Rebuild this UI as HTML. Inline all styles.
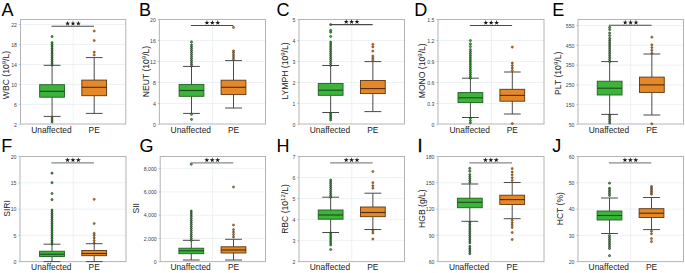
<!DOCTYPE html>
<html><head><meta charset="utf-8"><style>
html,body{margin:0;padding:0;background:#fff;width:685px;height:273px;overflow:hidden}
svg{display:block;font-family:"Liberation Sans",sans-serif}
</style></head><body>
<svg width="685" height="273" viewBox="0 0 685 273">
<rect width="685" height="273" fill="#fff"/>
<line x1="20.50" y1="24.50" x2="125.80" y2="24.50" stroke="#e8eff2" stroke-width="0.8"/>
<line x1="20.50" y1="44.48" x2="125.80" y2="44.48" stroke="#e8eff2" stroke-width="0.8"/>
<line x1="20.50" y1="64.46" x2="125.80" y2="64.46" stroke="#e8eff2" stroke-width="0.8"/>
<line x1="20.50" y1="84.44" x2="125.80" y2="84.44" stroke="#e8eff2" stroke-width="0.8"/>
<line x1="20.50" y1="104.42" x2="125.80" y2="104.42" stroke="#e8eff2" stroke-width="0.8"/>
<line x1="73.15" y1="19.50" x2="73.15" y2="124.00" stroke="#e8eff2" stroke-width="0.8"/>
<line x1="18.90" y1="24.50" x2="20.50" y2="24.50" stroke="#999" stroke-width="0.6"/>
<text x="17.00" y="26.70" font-size="5.2" fill="#444444" text-anchor="end">22</text>
<line x1="18.90" y1="44.48" x2="20.50" y2="44.48" stroke="#999" stroke-width="0.6"/>
<text x="17.00" y="46.68" font-size="5.2" fill="#444444" text-anchor="end">18</text>
<line x1="18.90" y1="64.46" x2="20.50" y2="64.46" stroke="#999" stroke-width="0.6"/>
<text x="17.00" y="66.66" font-size="5.2" fill="#444444" text-anchor="end">14</text>
<line x1="18.90" y1="84.44" x2="20.50" y2="84.44" stroke="#999" stroke-width="0.6"/>
<text x="17.00" y="86.64" font-size="5.2" fill="#444444" text-anchor="end">10</text>
<line x1="18.90" y1="104.42" x2="20.50" y2="104.42" stroke="#999" stroke-width="0.6"/>
<text x="17.00" y="106.62" font-size="5.2" fill="#444444" text-anchor="end">6</text>
<line x1="18.90" y1="124.40" x2="20.50" y2="124.40" stroke="#999" stroke-width="0.6"/>
<text x="17.00" y="126.60" font-size="5.2" fill="#444444" text-anchor="end">2</text>
<rect x="20.50" y="19.50" width="105.30" height="104.50" fill="none" stroke="#b4b4b4" stroke-width="1"/>
<line x1="52.09" y1="65.30" x2="52.09" y2="84.70" stroke="#4a4a4a" stroke-width="1"/>
<line x1="52.09" y1="97.20" x2="52.09" y2="116.40" stroke="#4a4a4a" stroke-width="1"/>
<line x1="43.69" y1="65.30" x2="60.49" y2="65.30" stroke="#4a4a4a" stroke-width="1"/>
<line x1="43.69" y1="116.40" x2="60.49" y2="116.40" stroke="#4a4a4a" stroke-width="1"/>
<rect x="39.69" y="84.70" width="24.80" height="12.50" fill="#3cb43c" stroke="#1f5f1f" stroke-width="0.9"/>
<line x1="39.69" y1="91.30" x2="64.49" y2="91.30" stroke="#1c4a1c" stroke-width="1.1"/>
<circle cx="52.09" cy="36.60" r="1.1" fill="#3caa3c" stroke="#0a250a" stroke-width="0.5"/>
<circle cx="52.09" cy="42.60" r="1.0" fill="#3cb03c" stroke="#000000" stroke-width="0.5"/>
<circle cx="52.09" cy="44.47" r="1.0" fill="#3cb03c" stroke="#000000" stroke-width="0.5"/>
<circle cx="52.09" cy="46.33" r="1.0" fill="#3cb03c" stroke="#000000" stroke-width="0.5"/>
<circle cx="52.09" cy="48.20" r="1.0" fill="#3cb03c" stroke="#000000" stroke-width="0.5"/>
<circle cx="52.09" cy="50.07" r="1.0" fill="#3cb03c" stroke="#000000" stroke-width="0.5"/>
<circle cx="52.09" cy="51.93" r="1.0" fill="#3cb03c" stroke="#000000" stroke-width="0.5"/>
<circle cx="52.09" cy="53.80" r="1.0" fill="#3cb03c" stroke="#000000" stroke-width="0.5"/>
<circle cx="52.09" cy="55.67" r="1.0" fill="#3cb03c" stroke="#000000" stroke-width="0.5"/>
<circle cx="52.09" cy="57.53" r="1.0" fill="#3cb03c" stroke="#000000" stroke-width="0.5"/>
<circle cx="52.09" cy="59.40" r="1.0" fill="#3cb03c" stroke="#000000" stroke-width="0.5"/>
<circle cx="52.09" cy="61.27" r="1.0" fill="#3cb03c" stroke="#000000" stroke-width="0.5"/>
<circle cx="52.09" cy="63.13" r="1.0" fill="#3cb03c" stroke="#000000" stroke-width="0.5"/>
<circle cx="52.09" cy="65.00" r="1.0" fill="#3cb03c" stroke="#000000" stroke-width="0.5"/>
<circle cx="52.09" cy="118.00" r="1.0" fill="#3cb03c" stroke="#000000" stroke-width="0.5"/>
<circle cx="52.09" cy="120.00" r="1.0" fill="#3cb03c" stroke="#000000" stroke-width="0.5"/>
<circle cx="52.09" cy="122.00" r="1.0" fill="#3cb03c" stroke="#000000" stroke-width="0.5"/>
<line x1="94.21" y1="57.60" x2="94.21" y2="80.10" stroke="#4a4a4a" stroke-width="1"/>
<line x1="94.21" y1="95.70" x2="94.21" y2="113.40" stroke="#4a4a4a" stroke-width="1"/>
<line x1="85.81" y1="57.60" x2="102.61" y2="57.60" stroke="#4a4a4a" stroke-width="1"/>
<line x1="85.81" y1="113.40" x2="102.61" y2="113.40" stroke="#4a4a4a" stroke-width="1"/>
<rect x="81.81" y="80.10" width="24.80" height="15.60" fill="#e4882a" stroke="#5a3812" stroke-width="0.9"/>
<line x1="81.81" y1="87.30" x2="106.61" y2="87.30" stroke="#4a2e10" stroke-width="1.1"/>
<circle cx="94.21" cy="31.00" r="1.1" fill="#b8722a" stroke="#5e3a10" stroke-width="0.5"/>
<circle cx="94.21" cy="40.60" r="1.1" fill="#b8722a" stroke="#5e3a10" stroke-width="0.5"/>
<circle cx="94.21" cy="52.20" r="1.1" fill="#b8722a" stroke="#5e3a10" stroke-width="0.5"/>
<circle cx="94.21" cy="55.00" r="1.1" fill="#b8722a" stroke="#5e3a10" stroke-width="0.5"/>
<line x1="51.49" y1="26.30" x2="94.01" y2="26.30" stroke="#4a4a4a" stroke-width="1.1"/>
<polygon points="67.60,20.85 68.19,22.69 70.12,22.68 68.56,23.81 69.16,25.64 67.60,24.51 66.04,25.64 66.64,23.81 65.08,22.68 67.01,22.69" fill="#151515"/>
<polygon points="73.00,20.85 73.59,22.69 75.52,22.68 73.96,23.81 74.56,25.64 73.00,24.51 71.44,25.64 72.04,23.81 70.48,22.68 72.41,22.69" fill="#151515"/>
<polygon points="78.40,20.85 78.99,22.69 80.92,22.68 79.36,23.81 79.96,25.64 78.40,24.51 76.84,25.64 77.44,23.81 75.88,22.68 77.81,22.69" fill="#151515"/>
<text x="51.39" y="133.30" font-size="8.4" fill="#222222" text-anchor="middle">Unaffected</text>
<text x="94.21" y="133.30" font-size="8.4" fill="#222222" text-anchor="middle">PE</text>
<text x="0" y="0" font-size="8.6" fill="#222222" text-anchor="middle" transform="translate(9.30,75.00) rotate(-90)">WBC (10<tspan baseline-shift="super" font-size="70%">9</tspan>/L)</text>
<text x="1.60" y="15.60" font-size="18" fill="#000">A</text>
<line x1="159.40" y1="40.50" x2="265.50" y2="40.50" stroke="#e8eff2" stroke-width="0.8"/>
<line x1="159.40" y1="61.50" x2="265.50" y2="61.50" stroke="#e8eff2" stroke-width="0.8"/>
<line x1="159.40" y1="82.50" x2="265.50" y2="82.50" stroke="#e8eff2" stroke-width="0.8"/>
<line x1="159.40" y1="103.50" x2="265.50" y2="103.50" stroke="#e8eff2" stroke-width="0.8"/>
<line x1="212.60" y1="19.50" x2="212.60" y2="124.00" stroke="#e8eff2" stroke-width="0.8"/>
<line x1="157.80" y1="19.50" x2="159.40" y2="19.50" stroke="#999" stroke-width="0.6"/>
<text x="155.90" y="21.70" font-size="5.2" fill="#444444" text-anchor="end">20</text>
<line x1="157.80" y1="40.50" x2="159.40" y2="40.50" stroke="#999" stroke-width="0.6"/>
<text x="155.90" y="42.70" font-size="5.2" fill="#444444" text-anchor="end">16</text>
<line x1="157.80" y1="61.50" x2="159.40" y2="61.50" stroke="#999" stroke-width="0.6"/>
<text x="155.90" y="63.70" font-size="5.2" fill="#444444" text-anchor="end">12</text>
<line x1="157.80" y1="82.50" x2="159.40" y2="82.50" stroke="#999" stroke-width="0.6"/>
<text x="155.90" y="84.70" font-size="5.2" fill="#444444" text-anchor="end">8</text>
<line x1="157.80" y1="103.50" x2="159.40" y2="103.50" stroke="#999" stroke-width="0.6"/>
<text x="155.90" y="105.70" font-size="5.2" fill="#444444" text-anchor="end">4</text>
<line x1="157.80" y1="124.50" x2="159.40" y2="124.50" stroke="#999" stroke-width="0.6"/>
<text x="155.90" y="126.70" font-size="5.2" fill="#444444" text-anchor="end">0</text>
<rect x="159.40" y="19.50" width="106.10" height="104.50" fill="none" stroke="#b4b4b4" stroke-width="1"/>
<line x1="191.50" y1="66.40" x2="191.50" y2="84.40" stroke="#4a4a4a" stroke-width="1"/>
<line x1="191.50" y1="96.30" x2="191.50" y2="113.40" stroke="#4a4a4a" stroke-width="1"/>
<line x1="183.10" y1="66.40" x2="199.90" y2="66.40" stroke="#4a4a4a" stroke-width="1"/>
<line x1="183.10" y1="113.40" x2="199.90" y2="113.40" stroke="#4a4a4a" stroke-width="1"/>
<rect x="179.10" y="84.40" width="24.80" height="11.90" fill="#3cb43c" stroke="#1f5f1f" stroke-width="0.9"/>
<line x1="179.10" y1="90.50" x2="203.90" y2="90.50" stroke="#1c4a1c" stroke-width="1.1"/>
<circle cx="191.50" cy="41.90" r="1.1" fill="#3caa3c" stroke="#0a250a" stroke-width="0.5"/>
<circle cx="191.50" cy="114.30" r="1.1" fill="#3caa3c" stroke="#0a250a" stroke-width="0.5"/>
<circle cx="191.50" cy="119.40" r="1.1" fill="#3caa3c" stroke="#0a250a" stroke-width="0.5"/>
<circle cx="191.50" cy="44.80" r="1.0" fill="#3cb03c" stroke="#000000" stroke-width="0.5"/>
<circle cx="191.50" cy="46.75" r="1.0" fill="#3cb03c" stroke="#000000" stroke-width="0.5"/>
<circle cx="191.50" cy="48.69" r="1.0" fill="#3cb03c" stroke="#000000" stroke-width="0.5"/>
<circle cx="191.50" cy="50.64" r="1.0" fill="#3cb03c" stroke="#000000" stroke-width="0.5"/>
<circle cx="191.50" cy="52.58" r="1.0" fill="#3cb03c" stroke="#000000" stroke-width="0.5"/>
<circle cx="191.50" cy="54.53" r="1.0" fill="#3cb03c" stroke="#000000" stroke-width="0.5"/>
<circle cx="191.50" cy="56.47" r="1.0" fill="#3cb03c" stroke="#000000" stroke-width="0.5"/>
<circle cx="191.50" cy="58.42" r="1.0" fill="#3cb03c" stroke="#000000" stroke-width="0.5"/>
<circle cx="191.50" cy="60.36" r="1.0" fill="#3cb03c" stroke="#000000" stroke-width="0.5"/>
<circle cx="191.50" cy="62.31" r="1.0" fill="#3cb03c" stroke="#000000" stroke-width="0.5"/>
<circle cx="191.50" cy="64.25" r="1.0" fill="#3cb03c" stroke="#000000" stroke-width="0.5"/>
<circle cx="191.50" cy="66.20" r="1.0" fill="#3cb03c" stroke="#000000" stroke-width="0.5"/>
<line x1="233.50" y1="60.60" x2="233.50" y2="80.20" stroke="#4a4a4a" stroke-width="1"/>
<line x1="233.50" y1="94.60" x2="233.50" y2="108.00" stroke="#4a4a4a" stroke-width="1"/>
<line x1="225.10" y1="60.60" x2="241.90" y2="60.60" stroke="#4a4a4a" stroke-width="1"/>
<line x1="225.10" y1="108.00" x2="241.90" y2="108.00" stroke="#4a4a4a" stroke-width="1"/>
<rect x="221.10" y="80.20" width="24.80" height="14.40" fill="#e4882a" stroke="#5a3812" stroke-width="0.9"/>
<line x1="221.10" y1="87.30" x2="245.90" y2="87.30" stroke="#4a2e10" stroke-width="1.1"/>
<circle cx="233.50" cy="27.40" r="1.1" fill="#b8722a" stroke="#5e3a10" stroke-width="0.5"/>
<circle cx="233.50" cy="50.90" r="1.1" fill="#b8722a" stroke="#5e3a10" stroke-width="0.5"/>
<circle cx="233.50" cy="52.80" r="1.0" fill="#c07628" stroke="#2a1800" stroke-width="0.5"/>
<circle cx="233.50" cy="54.90" r="1.0" fill="#c07628" stroke="#2a1800" stroke-width="0.5"/>
<circle cx="233.50" cy="57.00" r="1.0" fill="#c07628" stroke="#2a1800" stroke-width="0.5"/>
<circle cx="233.50" cy="59.10" r="1.0" fill="#c07628" stroke="#2a1800" stroke-width="0.5"/>
<line x1="190.90" y1="25.50" x2="233.30" y2="25.50" stroke="#4a4a4a" stroke-width="1.1"/>
<polygon points="206.95,20.05 207.54,21.89 209.47,21.88 207.91,23.01 208.51,24.84 206.95,23.71 205.39,24.84 205.99,23.01 204.43,21.88 206.36,21.89" fill="#151515"/>
<polygon points="212.35,20.05 212.94,21.89 214.87,21.88 213.31,23.01 213.91,24.84 212.35,23.71 210.79,24.84 211.39,23.01 209.83,21.88 211.76,21.89" fill="#151515"/>
<polygon points="217.75,20.05 218.34,21.89 220.27,21.88 218.71,23.01 219.31,24.84 217.75,23.71 216.19,24.84 216.79,23.01 215.23,21.88 217.16,21.89" fill="#151515"/>
<text x="190.80" y="133.30" font-size="8.4" fill="#222222" text-anchor="middle">Unaffected</text>
<text x="233.50" y="133.30" font-size="8.4" fill="#222222" text-anchor="middle">PE</text>
<text x="0" y="0" font-size="8.6" fill="#222222" text-anchor="middle" transform="translate(148.80,71.50) rotate(-90)">NEUT (10<tspan baseline-shift="super" font-size="70%">9</tspan>/L)</text>
<text x="139.00" y="15.60" font-size="18" fill="#000">B</text>
<line x1="299.00" y1="40.50" x2="404.50" y2="40.50" stroke="#e8eff2" stroke-width="0.8"/>
<line x1="299.00" y1="61.50" x2="404.50" y2="61.50" stroke="#e8eff2" stroke-width="0.8"/>
<line x1="299.00" y1="82.50" x2="404.50" y2="82.50" stroke="#e8eff2" stroke-width="0.8"/>
<line x1="299.00" y1="103.50" x2="404.50" y2="103.50" stroke="#e8eff2" stroke-width="0.8"/>
<line x1="351.75" y1="19.50" x2="351.75" y2="124.00" stroke="#e8eff2" stroke-width="0.8"/>
<line x1="297.40" y1="19.50" x2="299.00" y2="19.50" stroke="#999" stroke-width="0.6"/>
<text x="295.50" y="21.70" font-size="5.2" fill="#444444" text-anchor="end">5</text>
<line x1="297.40" y1="40.50" x2="299.00" y2="40.50" stroke="#999" stroke-width="0.6"/>
<text x="295.50" y="42.70" font-size="5.2" fill="#444444" text-anchor="end">4</text>
<line x1="297.40" y1="61.50" x2="299.00" y2="61.50" stroke="#999" stroke-width="0.6"/>
<text x="295.50" y="63.70" font-size="5.2" fill="#444444" text-anchor="end">3</text>
<line x1="297.40" y1="82.50" x2="299.00" y2="82.50" stroke="#999" stroke-width="0.6"/>
<text x="295.50" y="84.70" font-size="5.2" fill="#444444" text-anchor="end">2</text>
<line x1="297.40" y1="103.50" x2="299.00" y2="103.50" stroke="#999" stroke-width="0.6"/>
<text x="295.50" y="105.70" font-size="5.2" fill="#444444" text-anchor="end">1</text>
<line x1="297.40" y1="124.50" x2="299.00" y2="124.50" stroke="#999" stroke-width="0.6"/>
<text x="295.50" y="126.70" font-size="5.2" fill="#444444" text-anchor="end">0</text>
<rect x="299.00" y="19.50" width="105.50" height="104.50" fill="none" stroke="#b4b4b4" stroke-width="1"/>
<line x1="330.65" y1="65.50" x2="330.65" y2="83.50" stroke="#4a4a4a" stroke-width="1"/>
<line x1="330.65" y1="95.30" x2="330.65" y2="112.50" stroke="#4a4a4a" stroke-width="1"/>
<line x1="322.25" y1="65.50" x2="339.05" y2="65.50" stroke="#4a4a4a" stroke-width="1"/>
<line x1="322.25" y1="112.50" x2="339.05" y2="112.50" stroke="#4a4a4a" stroke-width="1"/>
<rect x="318.25" y="83.50" width="24.80" height="11.80" fill="#3cb43c" stroke="#1f5f1f" stroke-width="0.9"/>
<line x1="318.25" y1="90.20" x2="343.05" y2="90.20" stroke="#1c4a1c" stroke-width="1.1"/>
<circle cx="330.65" cy="24.60" r="1.1" fill="#3caa3c" stroke="#0a250a" stroke-width="0.5"/>
<circle cx="330.65" cy="30.40" r="1.1" fill="#3caa3c" stroke="#0a250a" stroke-width="0.5"/>
<circle cx="330.65" cy="32.20" r="1.1" fill="#3caa3c" stroke="#0a250a" stroke-width="0.5"/>
<circle cx="330.65" cy="36.50" r="1.1" fill="#3caa3c" stroke="#0a250a" stroke-width="0.5"/>
<circle cx="330.65" cy="42.00" r="1.0" fill="#3cb03c" stroke="#000000" stroke-width="0.5"/>
<circle cx="330.65" cy="43.96" r="1.0" fill="#3cb03c" stroke="#000000" stroke-width="0.5"/>
<circle cx="330.65" cy="45.92" r="1.0" fill="#3cb03c" stroke="#000000" stroke-width="0.5"/>
<circle cx="330.65" cy="47.88" r="1.0" fill="#3cb03c" stroke="#000000" stroke-width="0.5"/>
<circle cx="330.65" cy="49.83" r="1.0" fill="#3cb03c" stroke="#000000" stroke-width="0.5"/>
<circle cx="330.65" cy="51.79" r="1.0" fill="#3cb03c" stroke="#000000" stroke-width="0.5"/>
<circle cx="330.65" cy="53.75" r="1.0" fill="#3cb03c" stroke="#000000" stroke-width="0.5"/>
<circle cx="330.65" cy="55.71" r="1.0" fill="#3cb03c" stroke="#000000" stroke-width="0.5"/>
<circle cx="330.65" cy="57.67" r="1.0" fill="#3cb03c" stroke="#000000" stroke-width="0.5"/>
<circle cx="330.65" cy="59.62" r="1.0" fill="#3cb03c" stroke="#000000" stroke-width="0.5"/>
<circle cx="330.65" cy="61.58" r="1.0" fill="#3cb03c" stroke="#000000" stroke-width="0.5"/>
<circle cx="330.65" cy="63.54" r="1.0" fill="#3cb03c" stroke="#000000" stroke-width="0.5"/>
<circle cx="330.65" cy="65.50" r="1.0" fill="#3cb03c" stroke="#000000" stroke-width="0.5"/>
<circle cx="330.65" cy="113.30" r="1.0" fill="#3cb03c" stroke="#000000" stroke-width="0.5"/>
<circle cx="330.65" cy="114.97" r="1.0" fill="#3cb03c" stroke="#000000" stroke-width="0.5"/>
<circle cx="330.65" cy="116.65" r="1.0" fill="#3cb03c" stroke="#000000" stroke-width="0.5"/>
<circle cx="330.65" cy="118.33" r="1.0" fill="#3cb03c" stroke="#000000" stroke-width="0.5"/>
<circle cx="330.65" cy="120.00" r="1.0" fill="#3cb03c" stroke="#000000" stroke-width="0.5"/>
<line x1="372.85" y1="61.60" x2="372.85" y2="80.50" stroke="#4a4a4a" stroke-width="1"/>
<line x1="372.85" y1="93.60" x2="372.85" y2="111.60" stroke="#4a4a4a" stroke-width="1"/>
<line x1="364.45" y1="61.60" x2="381.25" y2="61.60" stroke="#4a4a4a" stroke-width="1"/>
<line x1="364.45" y1="111.60" x2="381.25" y2="111.60" stroke="#4a4a4a" stroke-width="1"/>
<rect x="360.45" y="80.50" width="24.80" height="13.10" fill="#e4882a" stroke="#5a3812" stroke-width="0.9"/>
<line x1="360.45" y1="88.60" x2="385.25" y2="88.60" stroke="#4a2e10" stroke-width="1.1"/>
<circle cx="372.85" cy="44.30" r="1.1" fill="#b8722a" stroke="#5e3a10" stroke-width="0.5"/>
<circle cx="372.85" cy="46.90" r="1.1" fill="#b8722a" stroke="#5e3a10" stroke-width="0.5"/>
<circle cx="372.85" cy="51.10" r="1.1" fill="#b8722a" stroke="#5e3a10" stroke-width="0.5"/>
<circle cx="372.85" cy="56.00" r="1.1" fill="#b8722a" stroke="#5e3a10" stroke-width="0.5"/>
<circle cx="372.85" cy="58.00" r="1.1" fill="#b8722a" stroke="#5e3a10" stroke-width="0.5"/>
<circle cx="372.85" cy="60.00" r="1.1" fill="#b8722a" stroke="#5e3a10" stroke-width="0.5"/>
<line x1="330.05" y1="24.60" x2="372.65" y2="24.60" stroke="#4a4a4a" stroke-width="1.1"/>
<polygon points="346.20,19.15 346.79,20.99 348.72,20.98 347.16,22.11 347.76,23.94 346.20,22.81 344.64,23.94 345.24,22.11 343.68,20.98 345.61,20.99" fill="#151515"/>
<polygon points="351.60,19.15 352.19,20.99 354.12,20.98 352.56,22.11 353.16,23.94 351.60,22.81 350.04,23.94 350.64,22.11 349.08,20.98 351.01,20.99" fill="#151515"/>
<polygon points="357.00,19.15 357.59,20.99 359.52,20.98 357.96,22.11 358.56,23.94 357.00,22.81 355.44,23.94 356.04,22.11 354.48,20.98 356.41,20.99" fill="#151515"/>
<text x="329.95" y="133.30" font-size="8.4" fill="#222222" text-anchor="middle">Unaffected</text>
<text x="372.85" y="133.30" font-size="8.4" fill="#222222" text-anchor="middle">PE</text>
<text x="0" y="0" font-size="8.6" fill="#222222" text-anchor="middle" transform="translate(287.70,71.00) rotate(-90)">LYMPH (10<tspan baseline-shift="super" font-size="70%">9</tspan>/L)</text>
<text x="276.40" y="15.60" font-size="18" fill="#000">C</text>
<line x1="438.00" y1="40.50" x2="544.00" y2="40.50" stroke="#e8eff2" stroke-width="0.8"/>
<line x1="438.00" y1="61.50" x2="544.00" y2="61.50" stroke="#e8eff2" stroke-width="0.8"/>
<line x1="438.00" y1="82.50" x2="544.00" y2="82.50" stroke="#e8eff2" stroke-width="0.8"/>
<line x1="438.00" y1="103.50" x2="544.00" y2="103.50" stroke="#e8eff2" stroke-width="0.8"/>
<line x1="491.40" y1="19.50" x2="491.40" y2="124.00" stroke="#e8eff2" stroke-width="0.8"/>
<line x1="436.40" y1="19.50" x2="438.00" y2="19.50" stroke="#999" stroke-width="0.6"/>
<text x="434.50" y="21.70" font-size="5.2" fill="#444444" text-anchor="end">1.5</text>
<line x1="436.40" y1="40.50" x2="438.00" y2="40.50" stroke="#999" stroke-width="0.6"/>
<text x="434.50" y="42.70" font-size="5.2" fill="#444444" text-anchor="end">1.2</text>
<line x1="436.40" y1="61.50" x2="438.00" y2="61.50" stroke="#999" stroke-width="0.6"/>
<text x="434.50" y="63.70" font-size="5.2" fill="#444444" text-anchor="end">0.9</text>
<line x1="436.40" y1="82.50" x2="438.00" y2="82.50" stroke="#999" stroke-width="0.6"/>
<text x="434.50" y="84.70" font-size="5.2" fill="#444444" text-anchor="end">0.6</text>
<line x1="436.40" y1="103.50" x2="438.00" y2="103.50" stroke="#999" stroke-width="0.6"/>
<text x="434.50" y="105.70" font-size="5.2" fill="#444444" text-anchor="end">0.3</text>
<line x1="436.40" y1="124.50" x2="438.00" y2="124.50" stroke="#999" stroke-width="0.6"/>
<text x="434.50" y="126.70" font-size="5.2" fill="#444444" text-anchor="end">0</text>
<rect x="438.00" y="19.50" width="106.00" height="104.50" fill="none" stroke="#b4b4b4" stroke-width="1"/>
<line x1="470.40" y1="78.20" x2="470.40" y2="92.60" stroke="#4a4a4a" stroke-width="1"/>
<line x1="470.40" y1="102.60" x2="470.40" y2="117.50" stroke="#4a4a4a" stroke-width="1"/>
<line x1="462.00" y1="78.20" x2="478.80" y2="78.20" stroke="#4a4a4a" stroke-width="1"/>
<line x1="462.00" y1="117.50" x2="478.80" y2="117.50" stroke="#4a4a4a" stroke-width="1"/>
<rect x="458.00" y="92.60" width="24.80" height="10.00" fill="#3cb43c" stroke="#1f5f1f" stroke-width="0.9"/>
<line x1="458.00" y1="97.80" x2="482.80" y2="97.80" stroke="#1c4a1c" stroke-width="1.1"/>
<circle cx="470.40" cy="40.60" r="1.1" fill="#3caa3c" stroke="#0a250a" stroke-width="0.5"/>
<circle cx="470.40" cy="43.90" r="1.1" fill="#3caa3c" stroke="#0a250a" stroke-width="0.5"/>
<circle cx="470.40" cy="46.60" r="1.1" fill="#3caa3c" stroke="#0a250a" stroke-width="0.5"/>
<circle cx="470.40" cy="49.50" r="1.0" fill="#3cb03c" stroke="#000000" stroke-width="0.5"/>
<circle cx="470.40" cy="51.41" r="1.0" fill="#3cb03c" stroke="#000000" stroke-width="0.5"/>
<circle cx="470.40" cy="53.33" r="1.0" fill="#3cb03c" stroke="#000000" stroke-width="0.5"/>
<circle cx="470.40" cy="55.24" r="1.0" fill="#3cb03c" stroke="#000000" stroke-width="0.5"/>
<circle cx="470.40" cy="57.15" r="1.0" fill="#3cb03c" stroke="#000000" stroke-width="0.5"/>
<circle cx="470.40" cy="59.07" r="1.0" fill="#3cb03c" stroke="#000000" stroke-width="0.5"/>
<circle cx="470.40" cy="60.98" r="1.0" fill="#3cb03c" stroke="#000000" stroke-width="0.5"/>
<circle cx="470.40" cy="62.89" r="1.0" fill="#3cb03c" stroke="#000000" stroke-width="0.5"/>
<circle cx="470.40" cy="64.81" r="1.0" fill="#3cb03c" stroke="#000000" stroke-width="0.5"/>
<circle cx="470.40" cy="66.72" r="1.0" fill="#3cb03c" stroke="#000000" stroke-width="0.5"/>
<circle cx="470.40" cy="68.63" r="1.0" fill="#3cb03c" stroke="#000000" stroke-width="0.5"/>
<circle cx="470.40" cy="70.55" r="1.0" fill="#3cb03c" stroke="#000000" stroke-width="0.5"/>
<circle cx="470.40" cy="72.46" r="1.0" fill="#3cb03c" stroke="#000000" stroke-width="0.5"/>
<circle cx="470.40" cy="74.37" r="1.0" fill="#3cb03c" stroke="#000000" stroke-width="0.5"/>
<circle cx="470.40" cy="76.29" r="1.0" fill="#3cb03c" stroke="#000000" stroke-width="0.5"/>
<circle cx="470.40" cy="78.20" r="1.0" fill="#3cb03c" stroke="#000000" stroke-width="0.5"/>
<circle cx="470.40" cy="118.30" r="1.0" fill="#3cb03c" stroke="#000000" stroke-width="0.5"/>
<circle cx="470.40" cy="120.55" r="1.0" fill="#3cb03c" stroke="#000000" stroke-width="0.5"/>
<circle cx="470.40" cy="122.80" r="1.0" fill="#3cb03c" stroke="#000000" stroke-width="0.5"/>
<line x1="512.30" y1="72.00" x2="512.30" y2="89.30" stroke="#4a4a4a" stroke-width="1"/>
<line x1="512.30" y1="101.20" x2="512.30" y2="114.00" stroke="#4a4a4a" stroke-width="1"/>
<line x1="503.90" y1="72.00" x2="520.70" y2="72.00" stroke="#4a4a4a" stroke-width="1"/>
<line x1="503.90" y1="114.00" x2="520.70" y2="114.00" stroke="#4a4a4a" stroke-width="1"/>
<rect x="499.90" y="89.30" width="24.80" height="11.90" fill="#e4882a" stroke="#5a3812" stroke-width="0.9"/>
<line x1="499.90" y1="95.40" x2="524.70" y2="95.40" stroke="#4a2e10" stroke-width="1.1"/>
<circle cx="512.30" cy="47.10" r="1.1" fill="#b8722a" stroke="#5e3a10" stroke-width="0.5"/>
<circle cx="512.30" cy="123.60" r="1.1" fill="#b8722a" stroke="#5e3a10" stroke-width="0.5"/>
<circle cx="512.30" cy="63.00" r="1.0" fill="#c07628" stroke="#2a1800" stroke-width="0.5"/>
<circle cx="512.30" cy="65.50" r="1.0" fill="#c07628" stroke="#2a1800" stroke-width="0.5"/>
<circle cx="512.30" cy="68.00" r="1.0" fill="#c07628" stroke="#2a1800" stroke-width="0.5"/>
<circle cx="512.30" cy="70.50" r="1.0" fill="#c07628" stroke="#2a1800" stroke-width="0.5"/>
<line x1="469.80" y1="25.50" x2="512.10" y2="25.50" stroke="#4a4a4a" stroke-width="1.1"/>
<polygon points="485.80,20.05 486.39,21.89 488.32,21.88 486.76,23.01 487.36,24.84 485.80,23.71 484.24,24.84 484.84,23.01 483.28,21.88 485.21,21.89" fill="#151515"/>
<polygon points="491.20,20.05 491.79,21.89 493.72,21.88 492.16,23.01 492.76,24.84 491.20,23.71 489.64,24.84 490.24,23.01 488.68,21.88 490.61,21.89" fill="#151515"/>
<polygon points="496.60,20.05 497.19,21.89 499.12,21.88 497.56,23.01 498.16,24.84 496.60,23.71 495.04,24.84 495.64,23.01 494.08,21.88 496.01,21.89" fill="#151515"/>
<text x="469.70" y="133.30" font-size="8.4" fill="#222222" text-anchor="middle">Unaffected</text>
<text x="512.30" y="133.30" font-size="8.4" fill="#222222" text-anchor="middle">PE</text>
<text x="0" y="0" font-size="8.6" fill="#222222" text-anchor="middle" transform="translate(424.50,70.80) rotate(-90)">MONO (10<tspan baseline-shift="super" font-size="70%">9</tspan>/L)</text>
<text x="414.20" y="15.60" font-size="18" fill="#000">D</text>
<line x1="578.00" y1="25.50" x2="683.50" y2="25.50" stroke="#e8eff2" stroke-width="0.8"/>
<line x1="578.00" y1="45.30" x2="683.50" y2="45.30" stroke="#e8eff2" stroke-width="0.8"/>
<line x1="578.00" y1="65.10" x2="683.50" y2="65.10" stroke="#e8eff2" stroke-width="0.8"/>
<line x1="578.00" y1="84.90" x2="683.50" y2="84.90" stroke="#e8eff2" stroke-width="0.8"/>
<line x1="578.00" y1="104.70" x2="683.50" y2="104.70" stroke="#e8eff2" stroke-width="0.8"/>
<line x1="630.75" y1="19.50" x2="630.75" y2="124.00" stroke="#e8eff2" stroke-width="0.8"/>
<line x1="576.40" y1="25.50" x2="578.00" y2="25.50" stroke="#999" stroke-width="0.6"/>
<text x="574.50" y="27.70" font-size="5.2" fill="#444444" text-anchor="end">550</text>
<line x1="576.40" y1="45.30" x2="578.00" y2="45.30" stroke="#999" stroke-width="0.6"/>
<text x="574.50" y="47.50" font-size="5.2" fill="#444444" text-anchor="end">450</text>
<line x1="576.40" y1="65.10" x2="578.00" y2="65.10" stroke="#999" stroke-width="0.6"/>
<text x="574.50" y="67.30" font-size="5.2" fill="#444444" text-anchor="end">350</text>
<line x1="576.40" y1="84.90" x2="578.00" y2="84.90" stroke="#999" stroke-width="0.6"/>
<text x="574.50" y="87.10" font-size="5.2" fill="#444444" text-anchor="end">250</text>
<line x1="576.40" y1="104.70" x2="578.00" y2="104.70" stroke="#999" stroke-width="0.6"/>
<text x="574.50" y="106.90" font-size="5.2" fill="#444444" text-anchor="end">150</text>
<line x1="576.40" y1="124.50" x2="578.00" y2="124.50" stroke="#999" stroke-width="0.6"/>
<text x="574.50" y="126.70" font-size="5.2" fill="#444444" text-anchor="end">50</text>
<rect x="578.00" y="19.50" width="105.50" height="104.50" fill="none" stroke="#b4b4b4" stroke-width="1"/>
<line x1="609.65" y1="61.60" x2="609.65" y2="81.20" stroke="#4a4a4a" stroke-width="1"/>
<line x1="609.65" y1="95.00" x2="609.65" y2="114.40" stroke="#4a4a4a" stroke-width="1"/>
<line x1="601.25" y1="61.60" x2="618.05" y2="61.60" stroke="#4a4a4a" stroke-width="1"/>
<line x1="601.25" y1="114.40" x2="618.05" y2="114.40" stroke="#4a4a4a" stroke-width="1"/>
<rect x="597.25" y="81.20" width="24.80" height="13.80" fill="#3cb43c" stroke="#1f5f1f" stroke-width="0.9"/>
<line x1="597.25" y1="88.20" x2="622.05" y2="88.20" stroke="#1c4a1c" stroke-width="1.1"/>
<circle cx="609.65" cy="27.30" r="1.1" fill="#3caa3c" stroke="#0a250a" stroke-width="0.5"/>
<circle cx="609.65" cy="29.60" r="1.1" fill="#3caa3c" stroke="#0a250a" stroke-width="0.5"/>
<circle cx="609.65" cy="33.00" r="1.1" fill="#3caa3c" stroke="#0a250a" stroke-width="0.5"/>
<circle cx="609.65" cy="35.60" r="1.1" fill="#3caa3c" stroke="#0a250a" stroke-width="0.5"/>
<circle cx="609.65" cy="38.30" r="1.0" fill="#3cb03c" stroke="#000000" stroke-width="0.5"/>
<circle cx="609.65" cy="40.24" r="1.0" fill="#3cb03c" stroke="#000000" stroke-width="0.5"/>
<circle cx="609.65" cy="42.18" r="1.0" fill="#3cb03c" stroke="#000000" stroke-width="0.5"/>
<circle cx="609.65" cy="44.12" r="1.0" fill="#3cb03c" stroke="#000000" stroke-width="0.5"/>
<circle cx="609.65" cy="46.07" r="1.0" fill="#3cb03c" stroke="#000000" stroke-width="0.5"/>
<circle cx="609.65" cy="48.01" r="1.0" fill="#3cb03c" stroke="#000000" stroke-width="0.5"/>
<circle cx="609.65" cy="49.95" r="1.0" fill="#3cb03c" stroke="#000000" stroke-width="0.5"/>
<circle cx="609.65" cy="51.89" r="1.0" fill="#3cb03c" stroke="#000000" stroke-width="0.5"/>
<circle cx="609.65" cy="53.83" r="1.0" fill="#3cb03c" stroke="#000000" stroke-width="0.5"/>
<circle cx="609.65" cy="55.78" r="1.0" fill="#3cb03c" stroke="#000000" stroke-width="0.5"/>
<circle cx="609.65" cy="57.72" r="1.0" fill="#3cb03c" stroke="#000000" stroke-width="0.5"/>
<circle cx="609.65" cy="59.66" r="1.0" fill="#3cb03c" stroke="#000000" stroke-width="0.5"/>
<circle cx="609.65" cy="61.60" r="1.0" fill="#3cb03c" stroke="#000000" stroke-width="0.5"/>
<circle cx="609.65" cy="115.40" r="1.0" fill="#3cb03c" stroke="#000000" stroke-width="0.5"/>
<circle cx="609.65" cy="117.30" r="1.0" fill="#3cb03c" stroke="#000000" stroke-width="0.5"/>
<circle cx="609.65" cy="119.20" r="1.0" fill="#3cb03c" stroke="#000000" stroke-width="0.5"/>
<circle cx="609.65" cy="121.10" r="1.0" fill="#3cb03c" stroke="#000000" stroke-width="0.5"/>
<circle cx="609.65" cy="123.00" r="1.0" fill="#3cb03c" stroke="#000000" stroke-width="0.5"/>
<line x1="651.85" y1="54.00" x2="651.85" y2="77.10" stroke="#4a4a4a" stroke-width="1"/>
<line x1="651.85" y1="92.40" x2="651.85" y2="115.00" stroke="#4a4a4a" stroke-width="1"/>
<line x1="643.45" y1="54.00" x2="660.25" y2="54.00" stroke="#4a4a4a" stroke-width="1"/>
<line x1="643.45" y1="115.00" x2="660.25" y2="115.00" stroke="#4a4a4a" stroke-width="1"/>
<rect x="639.45" y="77.10" width="24.80" height="15.30" fill="#e4882a" stroke="#5a3812" stroke-width="0.9"/>
<line x1="639.45" y1="84.90" x2="664.25" y2="84.90" stroke="#4a2e10" stroke-width="1.1"/>
<circle cx="651.85" cy="37.20" r="1.1" fill="#b8722a" stroke="#5e3a10" stroke-width="0.5"/>
<circle cx="651.85" cy="44.80" r="1.1" fill="#b8722a" stroke="#5e3a10" stroke-width="0.5"/>
<circle cx="651.85" cy="123.80" r="1.1" fill="#b8722a" stroke="#5e3a10" stroke-width="0.5"/>
<circle cx="651.85" cy="47.60" r="1.0" fill="#c07628" stroke="#2a1800" stroke-width="0.5"/>
<circle cx="651.85" cy="50.40" r="1.0" fill="#c07628" stroke="#2a1800" stroke-width="0.5"/>
<circle cx="651.85" cy="53.20" r="1.0" fill="#c07628" stroke="#2a1800" stroke-width="0.5"/>
<line x1="609.05" y1="25.30" x2="651.65" y2="25.30" stroke="#4a4a4a" stroke-width="1.1"/>
<polygon points="625.20,19.85 625.79,21.69 627.72,21.68 626.16,22.81 626.76,24.64 625.20,23.51 623.64,24.64 624.24,22.81 622.68,21.68 624.61,21.69" fill="#151515"/>
<polygon points="630.60,19.85 631.19,21.69 633.12,21.68 631.56,22.81 632.16,24.64 630.60,23.51 629.04,24.64 629.64,22.81 628.08,21.68 630.01,21.69" fill="#151515"/>
<polygon points="636.00,19.85 636.59,21.69 638.52,21.68 636.96,22.81 637.56,24.64 636.00,23.51 634.44,24.64 635.04,22.81 633.48,21.68 635.41,21.69" fill="#151515"/>
<text x="608.95" y="133.30" font-size="8.4" fill="#222222" text-anchor="middle">Unaffected</text>
<text x="651.85" y="133.30" font-size="8.4" fill="#222222" text-anchor="middle">PE</text>
<text x="0" y="0" font-size="8.6" fill="#222222" text-anchor="middle" transform="translate(561.20,73.30) rotate(-90)">PLT (10<tspan baseline-shift="super" font-size="70%">9</tspan>/L)</text>
<text x="552.20" y="15.60" font-size="18" fill="#000">E</text>
<line x1="20.00" y1="182.80" x2="126.00" y2="182.80" stroke="#e8eff2" stroke-width="0.8"/>
<line x1="20.00" y1="209.10" x2="126.00" y2="209.10" stroke="#e8eff2" stroke-width="0.8"/>
<line x1="20.00" y1="235.40" x2="126.00" y2="235.40" stroke="#e8eff2" stroke-width="0.8"/>
<line x1="73.20" y1="156.50" x2="73.20" y2="261.60" stroke="#e8eff2" stroke-width="0.8"/>
<line x1="18.40" y1="156.50" x2="20.00" y2="156.50" stroke="#999" stroke-width="0.6"/>
<text x="16.50" y="158.70" font-size="5.2" fill="#444444" text-anchor="end">20</text>
<line x1="18.40" y1="182.80" x2="20.00" y2="182.80" stroke="#999" stroke-width="0.6"/>
<text x="16.50" y="185.00" font-size="5.2" fill="#444444" text-anchor="end">15</text>
<line x1="18.40" y1="209.10" x2="20.00" y2="209.10" stroke="#999" stroke-width="0.6"/>
<text x="16.50" y="211.30" font-size="5.2" fill="#444444" text-anchor="end">10</text>
<line x1="18.40" y1="235.40" x2="20.00" y2="235.40" stroke="#999" stroke-width="0.6"/>
<text x="16.50" y="237.60" font-size="5.2" fill="#444444" text-anchor="end">5</text>
<line x1="18.40" y1="261.70" x2="20.00" y2="261.70" stroke="#999" stroke-width="0.6"/>
<text x="16.50" y="263.90" font-size="5.2" fill="#444444" text-anchor="end">0</text>
<rect x="20.00" y="156.50" width="106.00" height="105.10" fill="none" stroke="#b4b4b4" stroke-width="1"/>
<line x1="52.00" y1="244.20" x2="52.00" y2="251.20" stroke="#4a4a4a" stroke-width="1"/>
<line x1="52.00" y1="256.50" x2="52.00" y2="261.60" stroke="#4a4a4a" stroke-width="1"/>
<line x1="43.60" y1="244.20" x2="60.40" y2="244.20" stroke="#4a4a4a" stroke-width="1"/>
<line x1="43.60" y1="261.60" x2="60.40" y2="261.60" stroke="#4a4a4a" stroke-width="1"/>
<rect x="39.60" y="251.20" width="24.80" height="5.30" fill="#3cb43c" stroke="#1f5f1f" stroke-width="0.9"/>
<line x1="39.60" y1="254.20" x2="64.40" y2="254.20" stroke="#1c4a1c" stroke-width="1.1"/>
<circle cx="52.00" cy="173.20" r="1.1" fill="#3caa3c" stroke="#0a250a" stroke-width="0.5"/>
<circle cx="52.00" cy="182.70" r="1.1" fill="#3caa3c" stroke="#0a250a" stroke-width="0.5"/>
<circle cx="52.00" cy="193.50" r="1.1" fill="#3caa3c" stroke="#0a250a" stroke-width="0.5"/>
<circle cx="52.00" cy="199.70" r="1.1" fill="#3caa3c" stroke="#0a250a" stroke-width="0.5"/>
<circle cx="52.00" cy="210.00" r="1.0" fill="#3cb03c" stroke="#000000" stroke-width="0.5"/>
<circle cx="52.00" cy="211.89" r="1.0" fill="#3cb03c" stroke="#000000" stroke-width="0.5"/>
<circle cx="52.00" cy="213.78" r="1.0" fill="#3cb03c" stroke="#000000" stroke-width="0.5"/>
<circle cx="52.00" cy="215.67" r="1.0" fill="#3cb03c" stroke="#000000" stroke-width="0.5"/>
<circle cx="52.00" cy="217.56" r="1.0" fill="#3cb03c" stroke="#000000" stroke-width="0.5"/>
<circle cx="52.00" cy="219.44" r="1.0" fill="#3cb03c" stroke="#000000" stroke-width="0.5"/>
<circle cx="52.00" cy="221.33" r="1.0" fill="#3cb03c" stroke="#000000" stroke-width="0.5"/>
<circle cx="52.00" cy="223.22" r="1.0" fill="#3cb03c" stroke="#000000" stroke-width="0.5"/>
<circle cx="52.00" cy="225.11" r="1.0" fill="#3cb03c" stroke="#000000" stroke-width="0.5"/>
<circle cx="52.00" cy="227.00" r="1.0" fill="#3cb03c" stroke="#000000" stroke-width="0.5"/>
<circle cx="52.00" cy="228.89" r="1.0" fill="#3cb03c" stroke="#000000" stroke-width="0.5"/>
<circle cx="52.00" cy="230.78" r="1.0" fill="#3cb03c" stroke="#000000" stroke-width="0.5"/>
<circle cx="52.00" cy="232.67" r="1.0" fill="#3cb03c" stroke="#000000" stroke-width="0.5"/>
<circle cx="52.00" cy="234.56" r="1.0" fill="#3cb03c" stroke="#000000" stroke-width="0.5"/>
<circle cx="52.00" cy="236.44" r="1.0" fill="#3cb03c" stroke="#000000" stroke-width="0.5"/>
<circle cx="52.00" cy="238.33" r="1.0" fill="#3cb03c" stroke="#000000" stroke-width="0.5"/>
<circle cx="52.00" cy="240.22" r="1.0" fill="#3cb03c" stroke="#000000" stroke-width="0.5"/>
<circle cx="52.00" cy="242.11" r="1.0" fill="#3cb03c" stroke="#000000" stroke-width="0.5"/>
<circle cx="52.00" cy="244.00" r="1.0" fill="#3cb03c" stroke="#000000" stroke-width="0.5"/>
<line x1="94.20" y1="243.70" x2="94.20" y2="250.50" stroke="#4a4a4a" stroke-width="1"/>
<line x1="94.20" y1="255.70" x2="94.20" y2="261.60" stroke="#4a4a4a" stroke-width="1"/>
<line x1="85.80" y1="243.70" x2="102.60" y2="243.70" stroke="#4a4a4a" stroke-width="1"/>
<line x1="85.80" y1="261.60" x2="102.60" y2="261.60" stroke="#4a4a4a" stroke-width="1"/>
<rect x="81.80" y="250.50" width="24.80" height="5.20" fill="#e4882a" stroke="#5a3812" stroke-width="0.9"/>
<line x1="81.80" y1="253.50" x2="106.60" y2="253.50" stroke="#4a2e10" stroke-width="1.1"/>
<circle cx="94.20" cy="199.30" r="1.1" fill="#b8722a" stroke="#5e3a10" stroke-width="0.5"/>
<circle cx="94.20" cy="223.50" r="1.1" fill="#b8722a" stroke="#5e3a10" stroke-width="0.5"/>
<circle cx="94.20" cy="233.40" r="1.1" fill="#b8722a" stroke="#5e3a10" stroke-width="0.5"/>
<circle cx="94.20" cy="235.40" r="1.0" fill="#c07628" stroke="#2a1800" stroke-width="0.5"/>
<circle cx="94.20" cy="237.93" r="1.0" fill="#c07628" stroke="#2a1800" stroke-width="0.5"/>
<circle cx="94.20" cy="240.47" r="1.0" fill="#c07628" stroke="#2a1800" stroke-width="0.5"/>
<circle cx="94.20" cy="243.00" r="1.0" fill="#c07628" stroke="#2a1800" stroke-width="0.5"/>
<line x1="51.40" y1="162.90" x2="94.00" y2="162.90" stroke="#8a8a8a" stroke-width="1.1"/>
<polygon points="67.55,157.45 68.14,159.29 70.07,159.28 68.51,160.41 69.11,162.24 67.55,161.11 65.99,162.24 66.59,160.41 65.03,159.28 66.96,159.29" fill="#151515"/>
<polygon points="72.95,157.45 73.54,159.29 75.47,159.28 73.91,160.41 74.51,162.24 72.95,161.11 71.39,162.24 71.99,160.41 70.43,159.28 72.36,159.29" fill="#151515"/>
<polygon points="78.35,157.45 78.94,159.29 80.87,159.28 79.31,160.41 79.91,162.24 78.35,161.11 76.79,162.24 77.39,160.41 75.83,159.28 77.76,159.29" fill="#151515"/>
<text x="51.30" y="270.40" font-size="8.4" fill="#222222" text-anchor="middle">Unaffected</text>
<text x="94.20" y="270.40" font-size="8.4" fill="#222222" text-anchor="middle">PE</text>
<text x="0" y="0" font-size="8.6" fill="#222222" text-anchor="middle" transform="translate(9.70,208.40) rotate(-90)">SIRI</text>
<text x="1.20" y="152.40" font-size="18" fill="#000">F</text>
<line x1="160.20" y1="168.70" x2="265.50" y2="168.70" stroke="#e8eff2" stroke-width="0.8"/>
<line x1="160.20" y1="191.95" x2="265.50" y2="191.95" stroke="#e8eff2" stroke-width="0.8"/>
<line x1="160.20" y1="215.20" x2="265.50" y2="215.20" stroke="#e8eff2" stroke-width="0.8"/>
<line x1="160.20" y1="238.45" x2="265.50" y2="238.45" stroke="#e8eff2" stroke-width="0.8"/>
<line x1="212.60" y1="156.50" x2="212.60" y2="261.60" stroke="#e8eff2" stroke-width="0.8"/>
<line x1="158.60" y1="168.70" x2="160.20" y2="168.70" stroke="#999" stroke-width="0.6"/>
<text x="156.70" y="170.90" font-size="5.2" fill="#444444" text-anchor="end">8,000</text>
<line x1="158.60" y1="191.95" x2="160.20" y2="191.95" stroke="#999" stroke-width="0.6"/>
<text x="156.70" y="194.15" font-size="5.2" fill="#444444" text-anchor="end">6,000</text>
<line x1="158.60" y1="215.20" x2="160.20" y2="215.20" stroke="#999" stroke-width="0.6"/>
<text x="156.70" y="217.40" font-size="5.2" fill="#444444" text-anchor="end">4,000</text>
<line x1="158.60" y1="238.45" x2="160.20" y2="238.45" stroke="#999" stroke-width="0.6"/>
<text x="156.70" y="240.65" font-size="5.2" fill="#444444" text-anchor="end">2,000</text>
<line x1="158.60" y1="261.70" x2="160.20" y2="261.70" stroke="#999" stroke-width="0.6"/>
<text x="156.70" y="263.90" font-size="5.2" fill="#444444" text-anchor="end">0</text>
<rect x="160.20" y="156.50" width="105.30" height="105.10" fill="none" stroke="#b4b4b4" stroke-width="1"/>
<line x1="191.30" y1="240.30" x2="191.30" y2="248.20" stroke="#4a4a4a" stroke-width="1"/>
<line x1="191.30" y1="253.70" x2="191.30" y2="260.00" stroke="#4a4a4a" stroke-width="1"/>
<line x1="182.90" y1="240.30" x2="199.70" y2="240.30" stroke="#4a4a4a" stroke-width="1"/>
<line x1="182.90" y1="260.00" x2="199.70" y2="260.00" stroke="#4a4a4a" stroke-width="1"/>
<rect x="178.90" y="248.20" width="24.80" height="5.50" fill="#3cb43c" stroke="#1f5f1f" stroke-width="0.9"/>
<line x1="178.90" y1="250.80" x2="203.70" y2="250.80" stroke="#1c4a1c" stroke-width="1.1"/>
<circle cx="191.30" cy="164.20" r="1.1" fill="#3caa3c" stroke="#0a250a" stroke-width="0.5"/>
<circle cx="191.30" cy="211.00" r="1.0" fill="#3cb03c" stroke="#000000" stroke-width="0.5"/>
<circle cx="191.30" cy="212.95" r="1.0" fill="#3cb03c" stroke="#000000" stroke-width="0.5"/>
<circle cx="191.30" cy="214.91" r="1.0" fill="#3cb03c" stroke="#000000" stroke-width="0.5"/>
<circle cx="191.30" cy="216.86" r="1.0" fill="#3cb03c" stroke="#000000" stroke-width="0.5"/>
<circle cx="191.30" cy="218.81" r="1.0" fill="#3cb03c" stroke="#000000" stroke-width="0.5"/>
<circle cx="191.30" cy="220.77" r="1.0" fill="#3cb03c" stroke="#000000" stroke-width="0.5"/>
<circle cx="191.30" cy="222.72" r="1.0" fill="#3cb03c" stroke="#000000" stroke-width="0.5"/>
<circle cx="191.30" cy="224.67" r="1.0" fill="#3cb03c" stroke="#000000" stroke-width="0.5"/>
<circle cx="191.30" cy="226.63" r="1.0" fill="#3cb03c" stroke="#000000" stroke-width="0.5"/>
<circle cx="191.30" cy="228.58" r="1.0" fill="#3cb03c" stroke="#000000" stroke-width="0.5"/>
<circle cx="191.30" cy="230.53" r="1.0" fill="#3cb03c" stroke="#000000" stroke-width="0.5"/>
<circle cx="191.30" cy="232.49" r="1.0" fill="#3cb03c" stroke="#000000" stroke-width="0.5"/>
<circle cx="191.30" cy="234.44" r="1.0" fill="#3cb03c" stroke="#000000" stroke-width="0.5"/>
<circle cx="191.30" cy="236.39" r="1.0" fill="#3cb03c" stroke="#000000" stroke-width="0.5"/>
<circle cx="191.30" cy="238.35" r="1.0" fill="#3cb03c" stroke="#000000" stroke-width="0.5"/>
<circle cx="191.30" cy="240.30" r="1.0" fill="#3cb03c" stroke="#000000" stroke-width="0.5"/>
<line x1="233.50" y1="239.30" x2="233.50" y2="246.80" stroke="#4a4a4a" stroke-width="1"/>
<line x1="233.50" y1="253.00" x2="233.50" y2="260.00" stroke="#4a4a4a" stroke-width="1"/>
<line x1="225.10" y1="239.30" x2="241.90" y2="239.30" stroke="#4a4a4a" stroke-width="1"/>
<line x1="225.10" y1="260.00" x2="241.90" y2="260.00" stroke="#4a4a4a" stroke-width="1"/>
<rect x="221.10" y="246.80" width="24.80" height="6.20" fill="#e4882a" stroke="#5a3812" stroke-width="0.9"/>
<line x1="221.10" y1="250.00" x2="245.90" y2="250.00" stroke="#4a2e10" stroke-width="1.1"/>
<circle cx="233.50" cy="187.00" r="1.1" fill="#b8722a" stroke="#5e3a10" stroke-width="0.5"/>
<circle cx="233.50" cy="225.00" r="1.1" fill="#b8722a" stroke="#5e3a10" stroke-width="0.5"/>
<circle cx="233.50" cy="229.60" r="1.0" fill="#c07628" stroke="#2a1800" stroke-width="0.5"/>
<circle cx="233.50" cy="232.07" r="1.0" fill="#c07628" stroke="#2a1800" stroke-width="0.5"/>
<circle cx="233.50" cy="234.53" r="1.0" fill="#c07628" stroke="#2a1800" stroke-width="0.5"/>
<circle cx="233.50" cy="237.00" r="1.0" fill="#c07628" stroke="#2a1800" stroke-width="0.5"/>
<line x1="190.70" y1="162.90" x2="233.30" y2="162.90" stroke="#8a8a8a" stroke-width="1.1"/>
<polygon points="206.85,157.45 207.44,159.29 209.37,159.28 207.81,160.41 208.41,162.24 206.85,161.11 205.29,162.24 205.89,160.41 204.33,159.28 206.26,159.29" fill="#151515"/>
<polygon points="212.25,157.45 212.84,159.29 214.77,159.28 213.21,160.41 213.81,162.24 212.25,161.11 210.69,162.24 211.29,160.41 209.73,159.28 211.66,159.29" fill="#151515"/>
<polygon points="217.65,157.45 218.24,159.29 220.17,159.28 218.61,160.41 219.21,162.24 217.65,161.11 216.09,162.24 216.69,160.41 215.13,159.28 217.06,159.29" fill="#151515"/>
<text x="190.60" y="270.40" font-size="8.4" fill="#222222" text-anchor="middle">Unaffected</text>
<text x="233.50" y="270.40" font-size="8.4" fill="#222222" text-anchor="middle">PE</text>
<text x="0" y="0" font-size="8.6" fill="#222222" text-anchor="middle" transform="translate(139.10,208.30) rotate(-90)">SII</text>
<text x="139.60" y="152.40" font-size="18" fill="#000">G</text>
<line x1="299.00" y1="177.54" x2="404.50" y2="177.54" stroke="#e8eff2" stroke-width="0.8"/>
<line x1="299.00" y1="198.58" x2="404.50" y2="198.58" stroke="#e8eff2" stroke-width="0.8"/>
<line x1="299.00" y1="219.62" x2="404.50" y2="219.62" stroke="#e8eff2" stroke-width="0.8"/>
<line x1="299.00" y1="240.66" x2="404.50" y2="240.66" stroke="#e8eff2" stroke-width="0.8"/>
<line x1="351.75" y1="156.50" x2="351.75" y2="261.60" stroke="#e8eff2" stroke-width="0.8"/>
<line x1="297.40" y1="156.50" x2="299.00" y2="156.50" stroke="#999" stroke-width="0.6"/>
<text x="295.50" y="158.70" font-size="5.2" fill="#444444" text-anchor="end">7</text>
<line x1="297.40" y1="177.54" x2="299.00" y2="177.54" stroke="#999" stroke-width="0.6"/>
<text x="295.50" y="179.74" font-size="5.2" fill="#444444" text-anchor="end">6</text>
<line x1="297.40" y1="198.58" x2="299.00" y2="198.58" stroke="#999" stroke-width="0.6"/>
<text x="295.50" y="200.78" font-size="5.2" fill="#444444" text-anchor="end">5</text>
<line x1="297.40" y1="219.62" x2="299.00" y2="219.62" stroke="#999" stroke-width="0.6"/>
<text x="295.50" y="221.82" font-size="5.2" fill="#444444" text-anchor="end">4</text>
<line x1="297.40" y1="240.66" x2="299.00" y2="240.66" stroke="#999" stroke-width="0.6"/>
<text x="295.50" y="242.86" font-size="5.2" fill="#444444" text-anchor="end">3</text>
<line x1="297.40" y1="261.70" x2="299.00" y2="261.70" stroke="#999" stroke-width="0.6"/>
<text x="295.50" y="263.90" font-size="5.2" fill="#444444" text-anchor="end">2</text>
<rect x="299.00" y="156.50" width="105.50" height="105.10" fill="none" stroke="#b4b4b4" stroke-width="1"/>
<line x1="330.65" y1="197.20" x2="330.65" y2="210.00" stroke="#4a4a4a" stroke-width="1"/>
<line x1="330.65" y1="219.20" x2="330.65" y2="232.50" stroke="#4a4a4a" stroke-width="1"/>
<line x1="322.25" y1="197.20" x2="339.05" y2="197.20" stroke="#4a4a4a" stroke-width="1"/>
<line x1="322.25" y1="232.50" x2="339.05" y2="232.50" stroke="#4a4a4a" stroke-width="1"/>
<rect x="318.25" y="210.00" width="24.80" height="9.20" fill="#3cb43c" stroke="#1f5f1f" stroke-width="0.9"/>
<line x1="318.25" y1="215.00" x2="343.05" y2="215.00" stroke="#1c4a1c" stroke-width="1.1"/>
<circle cx="330.65" cy="249.50" r="1.1" fill="#3caa3c" stroke="#0a250a" stroke-width="0.5"/>
<circle cx="330.65" cy="180.00" r="1.0" fill="#3cb03c" stroke="#000000" stroke-width="0.5"/>
<circle cx="330.65" cy="181.91" r="1.0" fill="#3cb03c" stroke="#000000" stroke-width="0.5"/>
<circle cx="330.65" cy="183.82" r="1.0" fill="#3cb03c" stroke="#000000" stroke-width="0.5"/>
<circle cx="330.65" cy="185.73" r="1.0" fill="#3cb03c" stroke="#000000" stroke-width="0.5"/>
<circle cx="330.65" cy="187.64" r="1.0" fill="#3cb03c" stroke="#000000" stroke-width="0.5"/>
<circle cx="330.65" cy="189.56" r="1.0" fill="#3cb03c" stroke="#000000" stroke-width="0.5"/>
<circle cx="330.65" cy="191.47" r="1.0" fill="#3cb03c" stroke="#000000" stroke-width="0.5"/>
<circle cx="330.65" cy="193.38" r="1.0" fill="#3cb03c" stroke="#000000" stroke-width="0.5"/>
<circle cx="330.65" cy="195.29" r="1.0" fill="#3cb03c" stroke="#000000" stroke-width="0.5"/>
<circle cx="330.65" cy="197.20" r="1.0" fill="#3cb03c" stroke="#000000" stroke-width="0.5"/>
<circle cx="330.65" cy="233.00" r="1.0" fill="#3cb03c" stroke="#000000" stroke-width="0.5"/>
<circle cx="330.65" cy="235.00" r="1.0" fill="#3cb03c" stroke="#000000" stroke-width="0.5"/>
<circle cx="330.65" cy="237.00" r="1.0" fill="#3cb03c" stroke="#000000" stroke-width="0.5"/>
<circle cx="330.65" cy="239.00" r="1.0" fill="#3cb03c" stroke="#000000" stroke-width="0.5"/>
<circle cx="330.65" cy="241.00" r="1.0" fill="#3cb03c" stroke="#000000" stroke-width="0.5"/>
<circle cx="330.65" cy="243.00" r="1.0" fill="#3cb03c" stroke="#000000" stroke-width="0.5"/>
<circle cx="330.65" cy="245.00" r="1.0" fill="#3cb03c" stroke="#000000" stroke-width="0.5"/>
<line x1="372.85" y1="193.20" x2="372.85" y2="207.00" stroke="#4a4a4a" stroke-width="1"/>
<line x1="372.85" y1="216.70" x2="372.85" y2="229.50" stroke="#4a4a4a" stroke-width="1"/>
<line x1="364.45" y1="193.20" x2="381.25" y2="193.20" stroke="#4a4a4a" stroke-width="1"/>
<line x1="364.45" y1="229.50" x2="381.25" y2="229.50" stroke="#4a4a4a" stroke-width="1"/>
<rect x="360.45" y="207.00" width="24.80" height="9.70" fill="#e4882a" stroke="#5a3812" stroke-width="0.9"/>
<line x1="360.45" y1="212.50" x2="385.25" y2="212.50" stroke="#4a2e10" stroke-width="1.1"/>
<circle cx="372.85" cy="171.50" r="1.1" fill="#b8722a" stroke="#5e3a10" stroke-width="0.5"/>
<circle cx="372.85" cy="182.70" r="1.1" fill="#b8722a" stroke="#5e3a10" stroke-width="0.5"/>
<circle cx="372.85" cy="239.00" r="1.1" fill="#b8722a" stroke="#5e3a10" stroke-width="0.5"/>
<circle cx="372.85" cy="185.70" r="1.0" fill="#c07628" stroke="#2a1800" stroke-width="0.5"/>
<circle cx="372.85" cy="188.20" r="1.0" fill="#c07628" stroke="#2a1800" stroke-width="0.5"/>
<circle cx="372.85" cy="230.70" r="1.0" fill="#c07628" stroke="#2a1800" stroke-width="0.5"/>
<circle cx="372.85" cy="233.00" r="1.0" fill="#c07628" stroke="#2a1800" stroke-width="0.5"/>
<line x1="330.05" y1="162.90" x2="372.65" y2="162.90" stroke="#8a8a8a" stroke-width="1.1"/>
<polygon points="346.20,157.45 346.79,159.29 348.72,159.28 347.16,160.41 347.76,162.24 346.20,161.11 344.64,162.24 345.24,160.41 343.68,159.28 345.61,159.29" fill="#151515"/>
<polygon points="351.60,157.45 352.19,159.29 354.12,159.28 352.56,160.41 353.16,162.24 351.60,161.11 350.04,162.24 350.64,160.41 349.08,159.28 351.01,159.29" fill="#151515"/>
<polygon points="357.00,157.45 357.59,159.29 359.52,159.28 357.96,160.41 358.56,162.24 357.00,161.11 355.44,162.24 356.04,160.41 354.48,159.28 356.41,159.29" fill="#151515"/>
<text x="329.95" y="270.40" font-size="8.4" fill="#222222" text-anchor="middle">Unaffected</text>
<text x="372.85" y="270.40" font-size="8.4" fill="#222222" text-anchor="middle">PE</text>
<text x="0" y="0" font-size="8.6" fill="#222222" text-anchor="middle" transform="translate(287.70,209.00) rotate(-90)">RBC (10<tspan baseline-shift="super" font-size="70%">12</tspan>/L)</text>
<text x="276.50" y="152.40" font-size="18" fill="#000">H</text>
<line x1="438.00" y1="182.80" x2="544.00" y2="182.80" stroke="#e8eff2" stroke-width="0.8"/>
<line x1="438.00" y1="209.10" x2="544.00" y2="209.10" stroke="#e8eff2" stroke-width="0.8"/>
<line x1="438.00" y1="235.40" x2="544.00" y2="235.40" stroke="#e8eff2" stroke-width="0.8"/>
<line x1="491.00" y1="156.50" x2="491.00" y2="261.60" stroke="#e8eff2" stroke-width="0.8"/>
<line x1="436.40" y1="156.50" x2="438.00" y2="156.50" stroke="#999" stroke-width="0.6"/>
<text x="434.50" y="158.70" font-size="5.2" fill="#444444" text-anchor="end">180</text>
<line x1="436.40" y1="182.80" x2="438.00" y2="182.80" stroke="#999" stroke-width="0.6"/>
<text x="434.50" y="185.00" font-size="5.2" fill="#444444" text-anchor="end">150</text>
<line x1="436.40" y1="209.10" x2="438.00" y2="209.10" stroke="#999" stroke-width="0.6"/>
<text x="434.50" y="211.30" font-size="5.2" fill="#444444" text-anchor="end">120</text>
<line x1="436.40" y1="235.40" x2="438.00" y2="235.40" stroke="#999" stroke-width="0.6"/>
<text x="434.50" y="237.60" font-size="5.2" fill="#444444" text-anchor="end">90</text>
<line x1="436.40" y1="261.70" x2="438.00" y2="261.70" stroke="#999" stroke-width="0.6"/>
<text x="434.50" y="263.90" font-size="5.2" fill="#444444" text-anchor="end">60</text>
<rect x="438.00" y="156.50" width="106.00" height="105.10" fill="none" stroke="#b4b4b4" stroke-width="1"/>
<line x1="469.80" y1="184.00" x2="469.80" y2="198.20" stroke="#4a4a4a" stroke-width="1"/>
<line x1="469.80" y1="207.70" x2="469.80" y2="221.30" stroke="#4a4a4a" stroke-width="1"/>
<line x1="461.40" y1="184.00" x2="478.20" y2="184.00" stroke="#4a4a4a" stroke-width="1"/>
<line x1="461.40" y1="221.30" x2="478.20" y2="221.30" stroke="#4a4a4a" stroke-width="1"/>
<rect x="457.40" y="198.20" width="24.80" height="9.50" fill="#3cb43c" stroke="#1f5f1f" stroke-width="0.9"/>
<line x1="457.40" y1="202.30" x2="482.20" y2="202.30" stroke="#1c4a1c" stroke-width="1.1"/>
<circle cx="469.80" cy="168.40" r="1.1" fill="#3caa3c" stroke="#0a250a" stroke-width="0.5"/>
<circle cx="469.80" cy="171.20" r="1.1" fill="#3caa3c" stroke="#0a250a" stroke-width="0.5"/>
<circle cx="469.80" cy="174.50" r="1.0" fill="#3cb03c" stroke="#000000" stroke-width="0.5"/>
<circle cx="469.80" cy="176.50" r="1.0" fill="#3cb03c" stroke="#000000" stroke-width="0.5"/>
<circle cx="469.80" cy="178.50" r="1.0" fill="#3cb03c" stroke="#000000" stroke-width="0.5"/>
<circle cx="469.80" cy="180.50" r="1.0" fill="#3cb03c" stroke="#000000" stroke-width="0.5"/>
<circle cx="469.80" cy="182.50" r="1.0" fill="#3cb03c" stroke="#000000" stroke-width="0.5"/>
<circle cx="469.80" cy="222.30" r="1.0" fill="#3cb03c" stroke="#000000" stroke-width="0.5"/>
<circle cx="469.80" cy="224.18" r="1.0" fill="#3cb03c" stroke="#000000" stroke-width="0.5"/>
<circle cx="469.80" cy="226.06" r="1.0" fill="#3cb03c" stroke="#000000" stroke-width="0.5"/>
<circle cx="469.80" cy="227.95" r="1.0" fill="#3cb03c" stroke="#000000" stroke-width="0.5"/>
<circle cx="469.80" cy="229.83" r="1.0" fill="#3cb03c" stroke="#000000" stroke-width="0.5"/>
<circle cx="469.80" cy="231.71" r="1.0" fill="#3cb03c" stroke="#000000" stroke-width="0.5"/>
<circle cx="469.80" cy="233.59" r="1.0" fill="#3cb03c" stroke="#000000" stroke-width="0.5"/>
<circle cx="469.80" cy="235.47" r="1.0" fill="#3cb03c" stroke="#000000" stroke-width="0.5"/>
<circle cx="469.80" cy="237.35" r="1.0" fill="#3cb03c" stroke="#000000" stroke-width="0.5"/>
<circle cx="469.80" cy="239.24" r="1.0" fill="#3cb03c" stroke="#000000" stroke-width="0.5"/>
<circle cx="469.80" cy="241.12" r="1.0" fill="#3cb03c" stroke="#000000" stroke-width="0.5"/>
<circle cx="469.80" cy="243.00" r="1.0" fill="#3cb03c" stroke="#000000" stroke-width="0.5"/>
<circle cx="469.80" cy="246.30" r="1.0" fill="#3cb03c" stroke="#000000" stroke-width="0.5"/>
<circle cx="469.80" cy="248.15" r="1.0" fill="#3cb03c" stroke="#000000" stroke-width="0.5"/>
<circle cx="469.80" cy="250.00" r="1.0" fill="#3cb03c" stroke="#000000" stroke-width="0.5"/>
<circle cx="469.80" cy="251.85" r="1.0" fill="#3cb03c" stroke="#000000" stroke-width="0.5"/>
<circle cx="469.80" cy="253.70" r="1.0" fill="#3cb03c" stroke="#000000" stroke-width="0.5"/>
<line x1="512.20" y1="182.50" x2="512.20" y2="195.20" stroke="#4a4a4a" stroke-width="1"/>
<line x1="512.20" y1="204.50" x2="512.20" y2="218.70" stroke="#4a4a4a" stroke-width="1"/>
<line x1="503.80" y1="182.50" x2="520.60" y2="182.50" stroke="#4a4a4a" stroke-width="1"/>
<line x1="503.80" y1="218.70" x2="520.60" y2="218.70" stroke="#4a4a4a" stroke-width="1"/>
<rect x="499.80" y="195.20" width="24.80" height="9.30" fill="#e4882a" stroke="#5a3812" stroke-width="0.9"/>
<line x1="499.80" y1="199.60" x2="524.60" y2="199.60" stroke="#4a2e10" stroke-width="1.1"/>
<circle cx="512.20" cy="168.60" r="1.1" fill="#b8722a" stroke="#5e3a10" stroke-width="0.5"/>
<circle cx="512.20" cy="232.50" r="1.1" fill="#b8722a" stroke="#5e3a10" stroke-width="0.5"/>
<circle cx="512.20" cy="239.50" r="1.1" fill="#b8722a" stroke="#5e3a10" stroke-width="0.5"/>
<circle cx="512.20" cy="172.00" r="1.0" fill="#c07628" stroke="#2a1800" stroke-width="0.5"/>
<circle cx="512.20" cy="174.83" r="1.0" fill="#c07628" stroke="#2a1800" stroke-width="0.5"/>
<circle cx="512.20" cy="177.67" r="1.0" fill="#c07628" stroke="#2a1800" stroke-width="0.5"/>
<circle cx="512.20" cy="180.50" r="1.0" fill="#c07628" stroke="#2a1800" stroke-width="0.5"/>
<circle cx="512.20" cy="220.30" r="1.0" fill="#c07628" stroke="#2a1800" stroke-width="0.5"/>
<circle cx="512.20" cy="222.70" r="1.0" fill="#c07628" stroke="#2a1800" stroke-width="0.5"/>
<circle cx="512.20" cy="225.10" r="1.0" fill="#c07628" stroke="#2a1800" stroke-width="0.5"/>
<circle cx="512.20" cy="227.50" r="1.0" fill="#c07628" stroke="#2a1800" stroke-width="0.5"/>
<line x1="469.20" y1="162.90" x2="512.00" y2="162.90" stroke="#8a8a8a" stroke-width="1.1"/>
<polygon points="485.45,157.45 486.04,159.29 487.97,159.28 486.41,160.41 487.01,162.24 485.45,161.11 483.89,162.24 484.49,160.41 482.93,159.28 484.86,159.29" fill="#151515"/>
<polygon points="490.85,157.45 491.44,159.29 493.37,159.28 491.81,160.41 492.41,162.24 490.85,161.11 489.29,162.24 489.89,160.41 488.33,159.28 490.26,159.29" fill="#151515"/>
<polygon points="496.25,157.45 496.84,159.29 498.77,159.28 497.21,160.41 497.81,162.24 496.25,161.11 494.69,162.24 495.29,160.41 493.73,159.28 495.66,159.29" fill="#151515"/>
<text x="469.10" y="270.40" font-size="8.4" fill="#222222" text-anchor="middle">Unaffected</text>
<text x="512.20" y="270.40" font-size="8.4" fill="#222222" text-anchor="middle">PE</text>
<text x="0" y="0" font-size="8.6" fill="#222222" text-anchor="middle" transform="translate(424.50,208.60) rotate(-90)">HGB (g/L)</text>
<text x="417.40" y="152.40" font-size="18" fill="#000" stroke="#000" stroke-width="0.35">I</text>
<line x1="578.00" y1="182.80" x2="683.50" y2="182.80" stroke="#e8eff2" stroke-width="0.8"/>
<line x1="578.00" y1="209.10" x2="683.50" y2="209.10" stroke="#e8eff2" stroke-width="0.8"/>
<line x1="578.00" y1="235.40" x2="683.50" y2="235.40" stroke="#e8eff2" stroke-width="0.8"/>
<line x1="630.75" y1="156.50" x2="630.75" y2="261.60" stroke="#e8eff2" stroke-width="0.8"/>
<line x1="576.40" y1="156.50" x2="578.00" y2="156.50" stroke="#999" stroke-width="0.6"/>
<text x="574.50" y="158.70" font-size="5.2" fill="#444444" text-anchor="end">60</text>
<line x1="576.40" y1="182.80" x2="578.00" y2="182.80" stroke="#999" stroke-width="0.6"/>
<text x="574.50" y="185.00" font-size="5.2" fill="#444444" text-anchor="end">50</text>
<line x1="576.40" y1="209.10" x2="578.00" y2="209.10" stroke="#999" stroke-width="0.6"/>
<text x="574.50" y="211.30" font-size="5.2" fill="#444444" text-anchor="end">40</text>
<line x1="576.40" y1="235.40" x2="578.00" y2="235.40" stroke="#999" stroke-width="0.6"/>
<text x="574.50" y="237.60" font-size="5.2" fill="#444444" text-anchor="end">30</text>
<line x1="576.40" y1="261.70" x2="578.00" y2="261.70" stroke="#999" stroke-width="0.6"/>
<text x="574.50" y="263.90" font-size="5.2" fill="#444444" text-anchor="end">20</text>
<rect x="578.00" y="156.50" width="105.50" height="105.10" fill="none" stroke="#b4b4b4" stroke-width="1"/>
<line x1="609.50" y1="198.00" x2="609.50" y2="211.00" stroke="#4a4a4a" stroke-width="1"/>
<line x1="609.50" y1="220.00" x2="609.50" y2="233.50" stroke="#4a4a4a" stroke-width="1"/>
<line x1="601.10" y1="198.00" x2="617.90" y2="198.00" stroke="#4a4a4a" stroke-width="1"/>
<line x1="601.10" y1="233.50" x2="617.90" y2="233.50" stroke="#4a4a4a" stroke-width="1"/>
<rect x="597.10" y="211.00" width="24.80" height="9.00" fill="#3cb43c" stroke="#1f5f1f" stroke-width="0.9"/>
<line x1="597.10" y1="215.50" x2="621.90" y2="215.50" stroke="#1c4a1c" stroke-width="1.1"/>
<circle cx="609.50" cy="183.20" r="1.1" fill="#3caa3c" stroke="#0a250a" stroke-width="0.5"/>
<circle cx="609.50" cy="255.70" r="1.1" fill="#3caa3c" stroke="#0a250a" stroke-width="0.5"/>
<circle cx="609.50" cy="188.20" r="1.0" fill="#3cb03c" stroke="#000000" stroke-width="0.5"/>
<circle cx="609.50" cy="190.02" r="1.0" fill="#3cb03c" stroke="#000000" stroke-width="0.5"/>
<circle cx="609.50" cy="191.85" r="1.0" fill="#3cb03c" stroke="#000000" stroke-width="0.5"/>
<circle cx="609.50" cy="193.68" r="1.0" fill="#3cb03c" stroke="#000000" stroke-width="0.5"/>
<circle cx="609.50" cy="195.50" r="1.0" fill="#3cb03c" stroke="#000000" stroke-width="0.5"/>
<circle cx="609.50" cy="235.50" r="1.0" fill="#3cb03c" stroke="#000000" stroke-width="0.5"/>
<circle cx="609.50" cy="237.37" r="1.0" fill="#3cb03c" stroke="#000000" stroke-width="0.5"/>
<circle cx="609.50" cy="239.24" r="1.0" fill="#3cb03c" stroke="#000000" stroke-width="0.5"/>
<circle cx="609.50" cy="241.11" r="1.0" fill="#3cb03c" stroke="#000000" stroke-width="0.5"/>
<circle cx="609.50" cy="242.99" r="1.0" fill="#3cb03c" stroke="#000000" stroke-width="0.5"/>
<circle cx="609.50" cy="244.86" r="1.0" fill="#3cb03c" stroke="#000000" stroke-width="0.5"/>
<circle cx="609.50" cy="246.73" r="1.0" fill="#3cb03c" stroke="#000000" stroke-width="0.5"/>
<circle cx="609.50" cy="248.60" r="1.0" fill="#3cb03c" stroke="#000000" stroke-width="0.5"/>
<line x1="651.50" y1="197.50" x2="651.50" y2="208.70" stroke="#4a4a4a" stroke-width="1"/>
<line x1="651.50" y1="217.50" x2="651.50" y2="229.60" stroke="#4a4a4a" stroke-width="1"/>
<line x1="643.10" y1="197.50" x2="659.90" y2="197.50" stroke="#4a4a4a" stroke-width="1"/>
<line x1="643.10" y1="229.60" x2="659.90" y2="229.60" stroke="#4a4a4a" stroke-width="1"/>
<rect x="639.10" y="208.70" width="24.80" height="8.80" fill="#e4882a" stroke="#5a3812" stroke-width="0.9"/>
<line x1="639.10" y1="213.20" x2="663.90" y2="213.20" stroke="#4a2e10" stroke-width="1.1"/>
<circle cx="651.50" cy="238.60" r="1.1" fill="#b8722a" stroke="#5e3a10" stroke-width="0.5"/>
<circle cx="651.50" cy="241.60" r="1.1" fill="#b8722a" stroke="#5e3a10" stroke-width="0.5"/>
<circle cx="651.50" cy="186.40" r="1.0" fill="#c07628" stroke="#2a1800" stroke-width="0.5"/>
<circle cx="651.50" cy="187.98" r="1.0" fill="#c07628" stroke="#2a1800" stroke-width="0.5"/>
<circle cx="651.50" cy="189.56" r="1.0" fill="#c07628" stroke="#2a1800" stroke-width="0.5"/>
<circle cx="651.50" cy="191.14" r="1.0" fill="#c07628" stroke="#2a1800" stroke-width="0.5"/>
<circle cx="651.50" cy="192.72" r="1.0" fill="#c07628" stroke="#2a1800" stroke-width="0.5"/>
<circle cx="651.50" cy="194.30" r="1.0" fill="#c07628" stroke="#2a1800" stroke-width="0.5"/>
<circle cx="651.50" cy="231.20" r="1.0" fill="#c07628" stroke="#2a1800" stroke-width="0.5"/>
<circle cx="651.50" cy="233.70" r="1.0" fill="#c07628" stroke="#2a1800" stroke-width="0.5"/>
<line x1="608.90" y1="162.90" x2="651.30" y2="162.90" stroke="#8a8a8a" stroke-width="1.1"/>
<polygon points="624.95,157.45 625.54,159.29 627.47,159.28 625.91,160.41 626.51,162.24 624.95,161.11 623.39,162.24 623.99,160.41 622.43,159.28 624.36,159.29" fill="#151515"/>
<polygon points="630.35,157.45 630.94,159.29 632.87,159.28 631.31,160.41 631.91,162.24 630.35,161.11 628.79,162.24 629.39,160.41 627.83,159.28 629.76,159.29" fill="#151515"/>
<polygon points="635.75,157.45 636.34,159.29 638.27,159.28 636.71,160.41 637.31,162.24 635.75,161.11 634.19,162.24 634.79,160.41 633.23,159.28 635.16,159.29" fill="#151515"/>
<text x="608.80" y="270.40" font-size="8.4" fill="#222222" text-anchor="middle">Unaffected</text>
<text x="651.50" y="270.40" font-size="8.4" fill="#222222" text-anchor="middle">PE</text>
<text x="0" y="0" font-size="8.6" fill="#222222" text-anchor="middle" transform="translate(563.40,208.70) rotate(-90)">HCT (%)</text>
<text x="552.30" y="152.40" font-size="18" fill="#000">J</text>
</svg></body></html>
